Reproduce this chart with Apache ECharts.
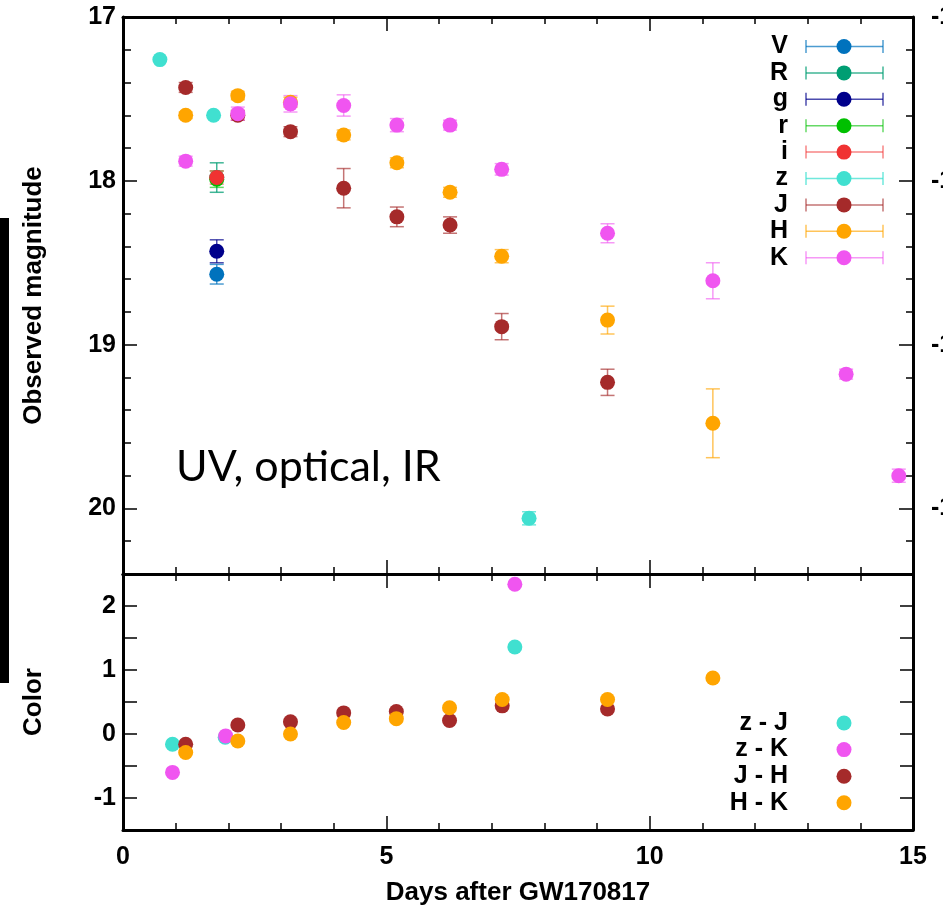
<!DOCTYPE html>
<html><head><meta charset="utf-8">
<script src="https://cdn.jsdelivr.net/npm/echarts@6/dist/echarts.min.js"></script>
<style>html,body{margin:0;padding:0;background:#fff}#c{width:943px;height:910px}</style>
</head><body><div id="c"></div>
<script>
// ---------- data (days after GW170817, observed magnitude, 1-sigma error) ----------
const V_day = [1.78], V_mag = [18.57], V_err = [0.06];
const R_day = [1.78], R_mag = [17.98], R_err = [0.09];
const g_day = [1.78], g_mag = [18.43], g_err = [0.07];
const r_day = [1.78], r_mag = [17.99], r_err = [0.05];
const i_day = [1.78], i_mag = [17.98], i_err = [0.04];
const z_day = [0.70, 1.72, 7.71], z_mag = [17.26, 17.60, 20.06], z_err = [0, 0, 0.04];
const J_day = [1.19, 2.18, 3.18, 4.19, 5.20, 6.21, 7.19, 9.20];
const J_mag = [17.43, 17.60, 17.70, 18.045, 18.22, 18.27, 18.89, 19.23];
const J_err = [0.03, 0.03, 0.03, 0.12, 0.06, 0.05, 0.08, 0.08];
const H_day = [1.19, 2.18, 3.18, 4.19, 5.20, 6.21, 7.19, 9.20, 11.20];
const H_mag = [17.60, 17.48, 17.52, 17.72, 17.89, 18.07, 18.46, 18.85, 19.48];
const H_err = [0.02, 0.025, 0.03, 0.03, 0.03, 0.03, 0.04, 0.085, 0.21];
const K_day = [1.19, 2.18, 3.18, 4.19, 5.20, 6.21, 7.19, 9.20, 11.20, 13.73, 14.73];
const K_mag = [17.88, 17.59, 17.53, 17.54, 17.66, 17.66, 17.93, 18.32, 18.61, 19.18, 19.80];
const K_err = [0.03, 0.04, 0.05, 0.065, 0.04, 0.03, 0.035, 0.058, 0.11, 0.03, 0.04];

// colours (bottom panel)
const zJ_day = [0.94, 1.94, 7.44], zJ_col = [-0.16, -0.05, 1.36];
const zK_day = [0.94, 1.95, 7.44], zK_col = [-0.60, -0.03, 2.34];
const JH_day = [1.19, 2.18, 3.18, 4.19, 5.19, 6.20, 7.20, 9.20];
const JH_col = [-0.16, 0.14, 0.19, 0.33, 0.35, 0.21, 0.44, 0.39];
const HK_day = [1.19, 2.18, 3.18, 4.19, 5.19, 6.20, 7.20, 9.20, 11.20];
const HK_col = [-0.29, -0.11, 0.00, 0.18, 0.24, 0.41, 0.54, 0.54, 0.875];

// axis ticks
const xTicks = [0, 5, 10, 15];
const magTicks = [17, 18, 19, 20];
const absTickLabels = ['-16', '-15', '-14', '-13'];
const colTicks = [-1, 0, 1, 2];

// ---------- styling ----------
const SANS = '"Liberation Sans", Arial, Helvetica, sans-serif';
const bands = [
  {name: 'V', day: V_day, mag: V_mag, err: V_err, color: '#0072bd', ebar: 'rgba(0,114,189,0.7)'},
  {name: 'R', day: R_day, mag: R_mag, err: R_err, color: '#009e73', ebar: 'rgba(0,158,115,0.75)'},
  {name: 'g', day: g_day, mag: g_mag, err: g_err, color: '#00008b', ebar: 'rgba(0,0,139,0.7)'},
  {name: 'r', day: r_day, mag: r_mag, err: r_err, color: '#00c000', ebar: 'rgba(0,192,0,0.6)'},
  {name: 'i', day: i_day, mag: i_mag, err: i_err, color: '#f03232', ebar: 'rgba(240,50,50,0.6)'},
  {name: 'z', day: z_day, mag: z_mag, err: z_err, color: '#40e0d0', ebar: 'rgba(64,224,208,0.75)'},
  {name: 'J', day: J_day, mag: J_mag, err: J_err, color: '#a52a2a', ebar: 'rgba(165,42,42,0.65)'},
  {name: 'H', day: H_day, mag: H_mag, err: H_err, color: '#ffa500', ebar: 'rgba(255,165,0,0.65)'},
  {name: 'K', day: K_day, mag: K_mag, err: K_err, color: '#f055f0', ebar: 'rgba(240,85,240,0.6)'}
];
const colours = [
  {name: 'z - J', day: zJ_day, val: zJ_col, color: '#40e0d0'},
  {name: 'z - K', day: zK_day, val: zK_col, color: '#f055f0'},
  {name: 'J - H', day: JH_day, val: JH_col, color: '#a52a2a'},
  {name: 'H - K', day: HK_day, val: HK_col, color: '#ffa500'}
];

const GL = 123, GR = 943 - 913, GT = 17, GMID = 574, GB = 910 - 830;

function errRenderer(stroke) {
  return function (params, api) {
    const x = api.value(0), lo = api.value(1), hi = api.value(2);
    if (hi - lo <= 0) return null;
    const a = api.coord([x, lo]), b = api.coord([x, hi]);
    const cw = 7;
    const st = {stroke: stroke, lineWidth: 1.5, fill: null};
    return {type: 'group', children: [
      {type: 'line', shape: {x1: a[0], y1: a[1], x2: b[0], y2: b[1]}, style: st},
      {type: 'line', shape: {x1: a[0] - cw, y1: a[1], x2: a[0] + cw, y2: a[1]}, style: st},
      {type: 'line', shape: {x1: b[0] - cw, y1: b[1], x2: b[0] + cw, y2: b[1]}, style: st}
    ]};
  };
}

const series = [];
bands.forEach(b => {
  series.push({
    type: 'custom', name: b.name + ' err', xAxisIndex: 0, yAxisIndex: 0,
    renderItem: errRenderer(b.ebar), encode: {x: 0, y: [1, 2]},
    data: b.day.map((d, k) => [d, b.mag[k] - b.err[k], b.mag[k] + b.err[k]]),
    silent: true, clip: false
  });
  series.push({
    type: 'scatter', name: b.name, xAxisIndex: 0, yAxisIndex: 0,
    symbol: 'circle', symbolSize: 15, itemStyle: {color: b.color, opacity: 1},
    data: b.day.map((d, k) => [d, b.mag[k]])
  });
});
colours.forEach(c => {
  series.push({
    type: 'scatter', name: c.name, xAxisIndex: 2, yAxisIndex: 4,
    symbol: 'circle', symbolSize: 15, itemStyle: {color: c.color, opacity: 1},
    data: c.day.map((d, k) => [d, c.val[k]])
  });
});

const lineBlack = {show: true, onZero: false, lineStyle: {color: '#000', width: 3}};
const tickFont = {color: '#000', fontFamily: SANS, fontWeight: 'bold', fontSize: 25};

function xAx(grid, pos, showLabel, name) {
  const ax = {
    type: 'value', gridIndex: grid, position: pos, min: 0, max: 15, interval: 5,
    axisLine: lineBlack,
    axisTick: {show: true, inside: true, length: 14, lineStyle: {color: '#000', width: 1.5}},
    minorTick: {show: true, splitNumber: 5, length: 7, lineStyle: {color: '#000', width: 1.5}},
    splitLine: {show: false}, minorSplitLine: {show: false},
    axisLabel: Object.assign({show: showLabel, margin: 15,
      formatter: v => xTicks.includes(v) ? String(v) : ''}, tickFont)
  };
  if (name) {
    ax.name = name; ax.nameLocation = 'middle'; ax.nameGap = 50;
    ax.nameTextStyle = {color: '#000', fontFamily: SANS, fontWeight: 'bold', fontSize: 26};
  }
  return ax;
}

function yAx(grid, pos, min, max, interval, len, showLine, labelFn, name, inverse) {
  const ax = {
    type: 'value', gridIndex: grid, position: pos, min: min, max: max, interval: interval,
    inverse: !!inverse,
    axisLine: showLine ? lineBlack : {show: false, onZero: false},
    axisTick: {show: true, inside: true, length: len, lineStyle: {color: '#000', width: 1.5}},
    splitLine: {show: false},
    axisLabel: Object.assign({show: !!labelFn, margin: pos === 'left' ? 7 : 18,
      formatter: labelFn || (() => '')}, tickFont)
  };
  if (name) {
    ax.name = name; ax.nameLocation = 'middle'; ax.nameGap = 76;
    ax.nameTextStyle = {color: '#000', fontFamily: SANS, fontWeight: 'bold', fontSize: 26};
  }
  return ax;
}

const magLabel = v => { const k = magTicks.indexOf(Math.round(v * 1000) / 1000); return k >= 0 ? String(magTicks[k]) : ''; };
const absLabel = v => { const k = magTicks.indexOf(Math.round(v * 1000) / 1000); return k >= 0 ? absTickLabels[k] : ''; };
const colLabel = v => { const k = colTicks.indexOf(Math.round(v * 1000) / 1000); return k >= 0 ? String(colTicks[k]) : ''; };

// legends drawn as graphic elements (error-bar style keys)
const graphic = [
  {type: 'rect', shape: {x: 0, y: 218, width: 9, height: 465}, style: {fill: '#000'}},
  {type: 'text', left: 176, top: 446, style: {text: 'UV, optical, IR', fill: '#000',
    font: '43px Lato, "Open Sans", sans-serif'}}
];
bands.forEach((b, k) => {
  const y = 46.5 + 26.4 * k;
  const st = {stroke: b.ebar, lineWidth: 1.5};
  graphic.push({type: 'text', x: 788, y: y, style: {text: b.name, fill: '#000', align: 'right',
    verticalAlign: 'middle', font: 'bold 25px ' + SANS}});
  graphic.push({type: 'line', shape: {x1: 806, y1: y, x2: 883, y2: y}, style: st});
  graphic.push({type: 'line', shape: {x1: 806, y1: y - 6.5, x2: 806, y2: y + 6.5}, style: st});
  graphic.push({type: 'line', shape: {x1: 883, y1: y - 6.5, x2: 883, y2: y + 6.5}, style: st});
  graphic.push({type: 'circle', shape: {cx: 844, cy: y, r: 7.5}, style: {fill: b.color}});
});
colours.forEach((c, k) => {
  const y = 723 + 26.6 * k;
  graphic.push({type: 'text', x: 788, y: y, style: {text: c.name, fill: '#000', align: 'right',
    verticalAlign: 'middle', font: 'bold 25px ' + SANS}});
  graphic.push({type: 'circle', shape: {cx: 844, cy: y, r: 7.5}, style: {fill: c.color}});
});

const option = {
  animation: false,
  backgroundColor: '#fff',
  grid: [
    {left: GL, right: GR, top: GT, height: GMID - GT, containLabel: false, outerBoundsMode: 'none'},
    {left: GL, right: GR, top: GMID, bottom: GB, containLabel: false, outerBoundsMode: 'none'}
  ],
  xAxis: [
    xAx(0, 'bottom', false),
    xAx(0, 'top', false),
    xAx(1, 'bottom', true, 'Days after GW170817'),
    xAx(1, 'top', false)
  ],
  yAxis: [
    yAx(0, 'left', 17, 20.4, 1, 14, true, magLabel, 'Observed magnitude', true),
    yAx(0, 'left', 17, 20.4, 0.2, 8, false, null, null, true),
    yAx(0, 'right', 17, 20.4, 1, 14, true, absLabel, null, true),
    yAx(0, 'right', 17, 20.4, 0.2, 7, false, null, null, true),
    yAx(1, 'left', -1.5, 2.5, 0.5, 14, true, colLabel, 'Color', false),
    yAx(1, 'right', -1.5, 2.5, 0.5, 13, true, null, null, false)
  ],
  series: series,
  graphic: graphic
};

const chart = echarts.init(document.getElementById('c'), null, {renderer: 'canvas'});
chart.setOption(option);
</script>
</body></html>
